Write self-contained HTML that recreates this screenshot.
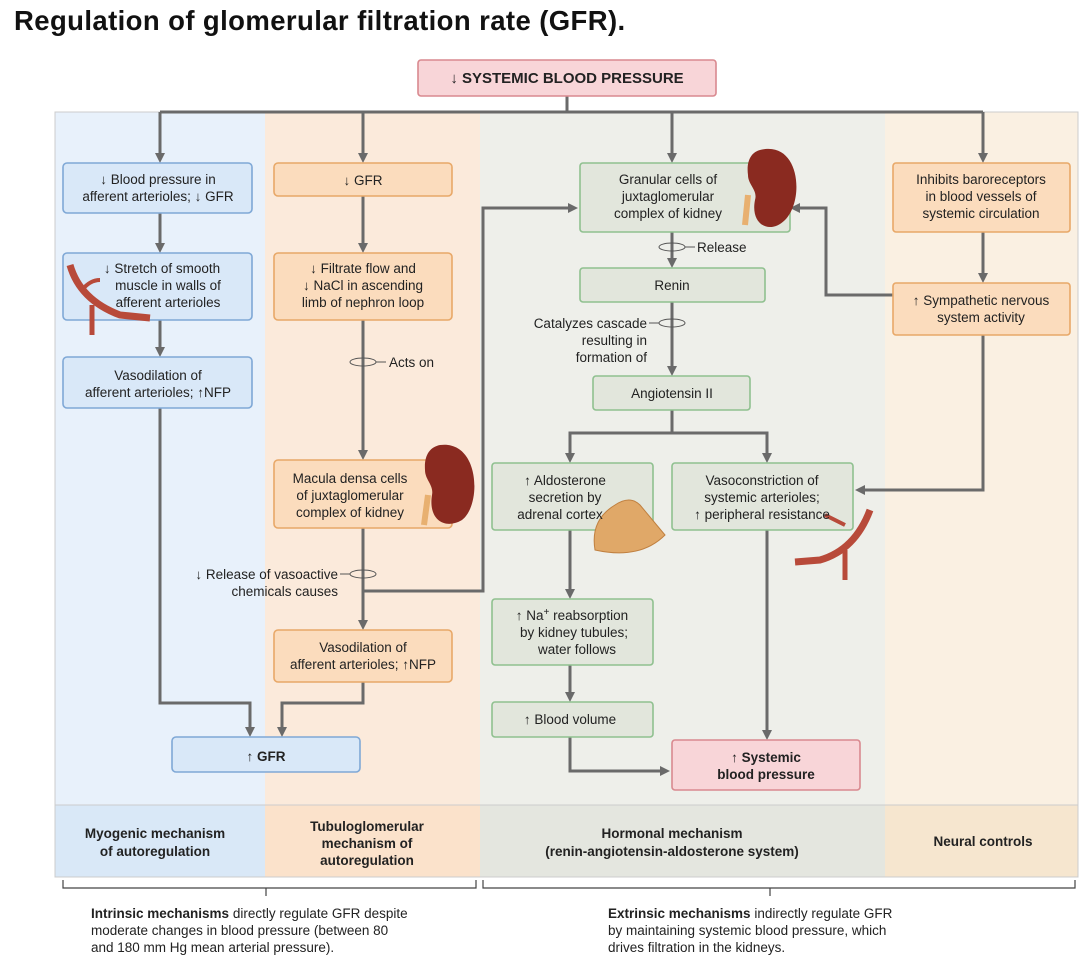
<!DOCTYPE html>
<html><head><meta charset="utf-8"><style>
body{margin:0;background:#fff;width:1092px;height:966px;overflow:hidden;font-family:"Liberation Sans",sans-serif}
svg text{font-family:"Liberation Sans",sans-serif;font-size:13.5px;fill:#222}
.b{font-weight:bold}
</style></head><body>
<svg width="1092" height="966" viewBox="0 0 1092 966" xmlns="http://www.w3.org/2000/svg">
<defs><marker id="a" markerWidth="10" markerHeight="10" refX="7" refY="5" orient="auto" markerUnits="userSpaceOnUse"><path d="M0,0 L10,5 L0,10 z" fill="#6a6a6a"/></marker></defs>
<text x="14" y="30" class="b" style="font-size:27.5px;fill:#111;letter-spacing:0.4px">Regulation of glomerular filtration rate (GFR).</text>
<!-- panels -->
<rect x="55" y="112" width="210" height="693" fill="#e8f1fb"/>
<rect x="265" y="112" width="215" height="693" fill="#fbeadb"/>
<rect x="480" y="112" width="405" height="693" fill="#eeefea"/>
<rect x="885" y="112" width="193" height="693" fill="#faf0e2"/>
<rect x="55" y="805" width="210" height="72" fill="#d9e8f7"/>
<rect x="265" y="805" width="215" height="72" fill="#fbe2cb"/>
<rect x="480" y="805" width="405" height="72" fill="#e4e6df"/>
<rect x="885" y="805" width="193" height="72" fill="#f6e6cf"/>
<rect x="55" y="112" width="1023" height="765" fill="none" stroke="#ccc"/>
<line x1="55" y1="805" x2="1078" y2="805" stroke="#ccc"/>
<g fill="#222" text-anchor="middle">
<text x="155" y="838" class="b">Myogenic mechanism</text><text x="155" y="856" class="b">of autoregulation</text>
<text x="367" y="831" class="b">Tubuloglomerular</text><text x="367" y="848" class="b">mechanism of</text><text x="367" y="865" class="b">autoregulation</text>
<text x="672" y="838" class="b">Hormonal mechanism</text><text x="672" y="856" class="b">(renin-angiotensin-aldosterone system)</text>
<text x="983" y="846" class="b">Neural controls</text>
</g>
<!-- connectors -->
<g stroke="#6a6a6a" stroke-width="3" fill="none">
<line x1="567" y1="96" x2="567" y2="112"/>
<line x1="160" y1="112" x2="983" y2="112"/>
<line x1="160" y1="112" x2="160" y2="160" marker-end="url(#a)"/>
<line x1="363" y1="112" x2="363" y2="160" marker-end="url(#a)"/>
<line x1="672" y1="112" x2="672" y2="160" marker-end="url(#a)"/>
<line x1="983" y1="112" x2="983" y2="160" marker-end="url(#a)"/>
<line x1="160" y1="213" x2="160" y2="250" marker-end="url(#a)"/>
<line x1="160" y1="320" x2="160" y2="354" marker-end="url(#a)"/>
<polyline points="160,408 160,703 250,703 250,734" marker-end="url(#a)"/>
<line x1="363" y1="196" x2="363" y2="250" marker-end="url(#a)"/>
<line x1="363" y1="320" x2="363" y2="457" marker-end="url(#a)"/>
<line x1="363" y1="528" x2="363" y2="627" marker-end="url(#a)"/>
<polyline points="363,682 363,703 282,703 282,734" marker-end="url(#a)"/>
<polyline points="363,591 483,591 483,208 575,208" marker-end="url(#a)"/>
<line x1="672" y1="232" x2="672" y2="265" marker-end="url(#a)"/>
<line x1="672" y1="302" x2="672" y2="373" marker-end="url(#a)"/>
<line x1="672" y1="410" x2="672" y2="433"/>
<polyline points="570,460 570,433 767,433 767,460" marker-end="url(#a)"/>
<line x1="570" y1="433" x2="570" y2="460" marker-end="url(#a)"/>
<line x1="570" y1="530" x2="570" y2="596" marker-end="url(#a)"/>
<line x1="570" y1="665" x2="570" y2="699" marker-end="url(#a)"/>
<polyline points="570,737 570,771 667,771" marker-end="url(#a)"/>
<line x1="767" y1="530" x2="767" y2="737" marker-end="url(#a)"/>
<line x1="983" y1="232" x2="983" y2="280" marker-end="url(#a)"/>
<polyline points="893,295 826,295 826,208 793,208" marker-end="url(#a)"/>
<polyline points="983,335 983,490 858,490" marker-end="url(#a)"/>
</g>
<g fill="none" stroke="#555" stroke-width="1">
<ellipse cx="363" cy="362" rx="13" ry="4"/><line x1="376" y1="362" x2="386" y2="362"/>
<ellipse cx="363" cy="574" rx="13" ry="4"/><line x1="340" y1="574" x2="350" y2="574"/>
<ellipse cx="672" cy="247" rx="13" ry="4"/><line x1="685" y1="247" x2="695" y2="247"/>
<ellipse cx="672" cy="323" rx="13" ry="4"/><line x1="649" y1="323" x2="659" y2="323"/>
</g>
<text x="389" y="367">Acts on</text>
<text x="338" y="579" text-anchor="end">↓ Release of vasoactive</text>
<text x="338" y="596" text-anchor="end">chemicals causes</text>
<text x="697" y="252">Release</text>
<text x="647" y="328" text-anchor="end">Catalyzes cascade</text>
<text x="647" y="345" text-anchor="end">resulting in</text>
<text x="647" y="362" text-anchor="end">formation of</text>
<g stroke-width="1.6">
<rect x="418" y="60" width="298" height="36" rx="3" fill="#f8d5d8" stroke="#d9898f"/>
<rect x="63" y="163" width="189" height="50" rx="4" fill="#d9e8f8" stroke="#7fa8d6"/>
<rect x="63" y="253" width="189" height="67" rx="4" fill="#d9e8f8" stroke="#7fa8d6"/>
<rect x="63" y="357" width="189" height="51" rx="4" fill="#d9e8f8" stroke="#7fa8d6"/>
<rect x="172" y="737" width="188" height="35" rx="4" fill="#d9e8f8" stroke="#7fa8d6"/>
<rect x="274" y="163" width="178" height="33" rx="4" fill="#fbdcbd" stroke="#e8a868"/>
<rect x="274" y="253" width="178" height="67" rx="4" fill="#fbdcbd" stroke="#e8a868"/>
<rect x="274" y="460" width="178" height="68" rx="4" fill="#fbdcbd" stroke="#e8a868"/>
<rect x="274" y="630" width="178" height="52" rx="4" fill="#fbdcbd" stroke="#e8a868"/>
<rect x="580" y="163" width="210" height="69" rx="3" fill="#e2e6dc" stroke="#8fc08f"/>
<rect x="580" y="268" width="185" height="34" rx="3" fill="#e2e6dc" stroke="#8fc08f"/>
<rect x="593" y="376" width="157" height="34" rx="3" fill="#e2e6dc" stroke="#8fc08f"/>
<rect x="492" y="463" width="161" height="67" rx="3" fill="#e2e6dc" stroke="#8fc08f"/>
<rect x="672" y="463" width="181" height="67" rx="3" fill="#e2e6dc" stroke="#8fc08f"/>
<rect x="492" y="599" width="161" height="66" rx="3" fill="#e2e6dc" stroke="#8fc08f"/>
<rect x="492" y="702" width="161" height="35" rx="3" fill="#e2e6dc" stroke="#8fc08f"/>
<rect x="672" y="740" width="188" height="50" rx="3" fill="#f8d5d8" stroke="#d9898f"/>
<rect x="893" y="163" width="177" height="69" rx="3" fill="#fbdcbd" stroke="#e8a868"/>
<rect x="893" y="283" width="177" height="52" rx="3" fill="#fbdcbd" stroke="#e8a868"/>
</g>
<path d="M70,265 Q80,300 120,315 L150,318" stroke="#b84a3a" stroke-width="7" fill="none"/>
<path d="M82,290 Q90,280 100,280" stroke="#b84a3a" stroke-width="4" fill="none"/>
<path d="M92,305 L92,335" stroke="#b84a3a" stroke-width="5" fill="none"/>
<path d="M760,150 C800,140 805,200 785,220 C770,235 750,225 755,200 C758,190 748,185 748,175 C746,160 752,152 760,150z" fill="#8a2a20"/>
<path d="M748,195 L745,225" stroke="#e8b070" stroke-width="6"/>
<path d="M440,445 C480,440 482,505 462,520 C445,530 428,520 432,495 C434,485 425,480 425,470 C424,455 430,447 440,445z" fill="#8a2a20"/>
<path d="M428,495 L424,525" stroke="#e8b070" stroke-width="6"/>
<path d="M595,550 Q590,520 615,505 Q630,495 640,505 L665,535 Q640,560 595,550z" fill="#e0a868" stroke="#c08040"/>
<path d="M870,510 Q855,550 820,560 L795,562" stroke="#b84a3a" stroke-width="7" fill="none"/>
<path d="M845,525 Q835,520 825,515" stroke="#b84a3a" stroke-width="4" fill="none"/>
<path d="M845,550 L845,580" stroke="#b84a3a" stroke-width="5" fill="none"/>
<g text-anchor="middle">
<text x="567" y="83" class="b" style="font-size:15px">↓ SYSTEMIC BLOOD PRESSURE</text>
<text x="158" y="184">↓ Blood pressure in</text><text x="158" y="201">afferent arterioles; ↓ GFR</text>
<text x="162" y="273">↓ Stretch of smooth</text><text x="168" y="290">muscle in walls of</text><text x="168" y="307">afferent arterioles</text>
<text x="158" y="380">Vasodilation of</text><text x="158" y="397">afferent arterioles; ↑NFP</text>
<text x="266" y="761" class="b">↑ GFR</text>
<text x="363" y="185">↓ GFR</text>
<text x="363" y="273">↓ Filtrate flow and</text><text x="363" y="290">↓ NaCl in ascending</text><text x="363" y="307">limb of nephron loop</text>
<text x="350" y="483">Macula densa cells</text><text x="350" y="500">of juxtaglomerular</text><text x="350" y="517">complex of kidney</text>
<text x="363" y="652">Vasodilation of</text><text x="363" y="669">afferent arterioles; ↑NFP</text>
<text x="668" y="184">Granular cells of</text><text x="668" y="201">juxtaglomerular</text><text x="668" y="218">complex of kidney</text>
<text x="672" y="290">Renin</text>
<text x="672" y="398">Angiotensin II</text>
<text x="565" y="485">↑ Aldosterone</text><text x="565" y="502">secretion by</text><text x="560" y="519">adrenal cortex</text>
<text x="762" y="485">Vasoconstriction of</text><text x="762" y="502">systemic arterioles;</text><text x="762" y="519">↑ peripheral resistance</text>
<text x="572" y="620">↑ Na<tspan dy="-5" style="font-size:10px">+</tspan><tspan dy="5"> reabsorption</tspan></text><text x="574" y="637">by kidney tubules;</text><text x="577" y="654">water follows</text>
<text x="570" y="724">↑ Blood volume</text>
<text x="766" y="762" class="b">↑ Systemic</text><text x="766" y="779" class="b">blood pressure</text>
<text x="981" y="184">Inhibits baroreceptors</text><text x="981" y="201">in blood vessels of</text><text x="981" y="218">systemic circulation</text>
<text x="981" y="305">↑ Sympathetic nervous</text><text x="981" y="322">system activity</text>
</g>
<g stroke="#444" stroke-width="1.2" fill="none">
<polyline points="63,880 63,888 476,888 476,880"/><line x1="266" y1="888" x2="266" y2="896"/>
<polyline points="483,880 483,888 1075,888 1075,880"/><line x1="770" y1="888" x2="770" y2="896"/>
</g>
<g style="font-size:13px">
<text x="91" y="918"><tspan class="b">Intrinsic mechanisms</tspan> directly regulate GFR despite</text>
<text x="91" y="935">moderate changes in blood pressure (between 80</text>
<text x="91" y="952">and 180 mm Hg mean arterial pressure).</text>
<text x="608" y="918"><tspan class="b">Extrinsic mechanisms</tspan> indirectly regulate GFR</text>
<text x="608" y="935">by maintaining systemic blood pressure, which</text>
<text x="608" y="952">drives filtration in the kidneys.</text>
</g>
</svg>
</body></html>
